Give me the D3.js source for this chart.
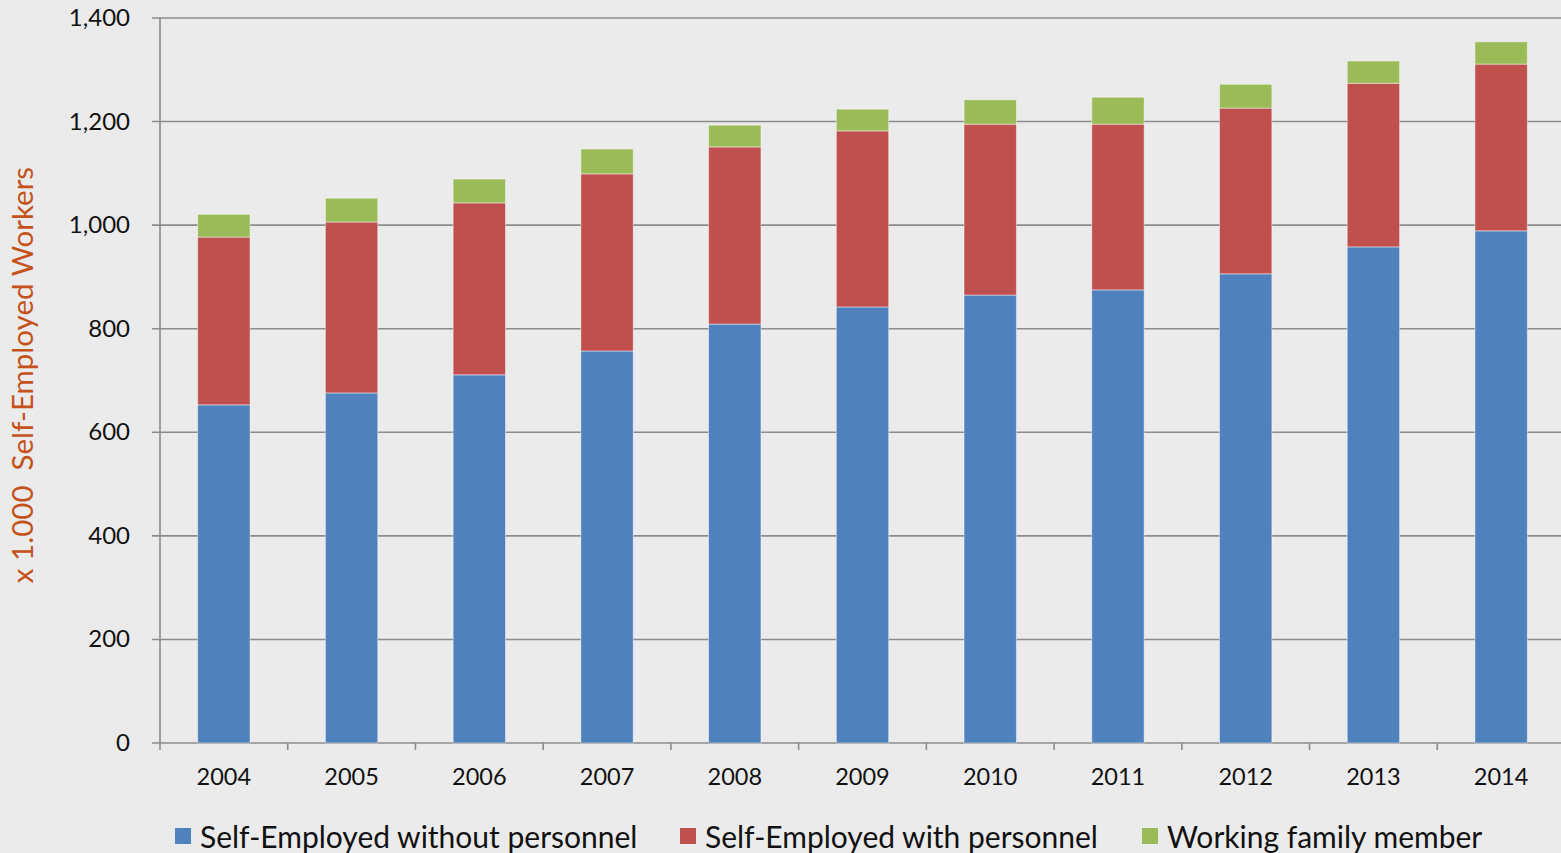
<!DOCTYPE html>
<html>
<head>
<meta charset="utf-8">
<script src="https://cdn.jsdelivr.net/npm/d3@7/dist/d3.min.js"></script>
<style>
  html, body { margin: 0; padding: 0; background: #ebebeb; }
  svg { display: block; font-family: Lato, "Open Sans", sans-serif; }
</style>
</head>
<body>
<div id="chart"></div>
<script>
var years = ['2004','2005','2006','2007','2008','2009','2010','2011','2012','2013','2014'];
var withoutPersonnel = [653, 676, 711, 757, 809, 842, 865, 875, 906, 958, 989];
var withPersonnel    = [324, 330, 332, 342, 342, 340, 330, 320, 320, 316, 322];
var familyMember     = [44, 46, 46, 48, 42, 42, 47, 52, 46, 43, 43];
var seriesNames = ['Self-Employed without personnel', 'Self-Employed with personnel', 'Working family member'];
var seriesColors = ['#4f81bd', '#c0504d', '#9bbb59'];
var yTicks = [0, 200, 400, 600, 800, 1000, 1200, 1400];

var width = 1561, height = 853;
var margin = { top: 18, left: 160, bottom: 110, right: -4 };

var svg = d3.select('#chart').append('svg')
    .attr('width', width)
    .attr('height', height);

svg.append('rect').attr('width', width).attr('height', height).attr('fill', '#ebebeb');

var x = d3.scaleBand().domain(years).range([margin.left, width - margin.right]);
var y = d3.scaleLinear().domain([0, 1400]).range([height - margin.bottom, margin.top]);

// gridlines
svg.append('g').selectAll('line')
    .data(yTicks)
    .enter().append('line')
        .attr('x1', margin.left - 8)
        .attr('x2', width)
        .attr('y1', function(d){ return y(d) })
        .attr('y2', function(d){ return y(d) })
        .attr('stroke', '#8c8c8c')
        .attr('stroke-width', 1.6);

// y axis labels
svg.append('g').selectAll('text')
    .data(yTicks)
    .enter().append('text')
        .attr('x', 130)
        .attr('y', function(d){ return y(d) + 8 })
        .attr('text-anchor', 'end')
        .attr('font-size', 24)
        .attr('fill', '#111')
        .text(function(d){ return d3.format(',')(d) });

// stacked bars
var rows = years.map(function(yr, i){
    return { year: yr, a: withoutPersonnel[i], b: withPersonnel[i], c: familyMember[i] };
});
var stack = d3.stack().keys(['a','b','c'])(rows);
var barW = x.bandwidth() * 0.41;

svg.append('g').selectAll('g')
    .data(stack)
    .enter().append('g')
        .attr('fill', function(d, i){ return seriesColors[i] })
    .selectAll('rect')
    .data(function(d){ return d })
    .enter().append('rect')
        .attr('x', function(d){ return x(d.data.year) + (x.bandwidth() - barW) / 2 })
        .attr('y', function(d){ return y(d[1]) })
        .attr('width', barW)
        .attr('height', function(d){ return y(d[0]) - y(d[1]) })
        .attr('stroke', 'rgba(255,255,255,0.45)')
        .attr('stroke-width', 1);

// axes lines
var axisG = svg.append('g').attr('stroke', '#8c8c8c').attr('stroke-width', 1.6);
axisG.append('line')
    .attr('x1', margin.left).attr('x2', margin.left)
    .attr('y1', y(1400)).attr('y2', y(0) + 7);
axisG.selectAll('.xt')
    .data(years.slice(1))
    .enter().append('line')
        .attr('x1', function(d){ return x(d) })
        .attr('x2', function(d){ return x(d) })
        .attr('y1', y(0))
        .attr('y2', y(0) + 7);

// x labels
svg.append('g').selectAll('text')
    .data(years)
    .enter().append('text')
        .attr('x', function(d){ return x(d) + x.bandwidth() / 2 })
        .attr('y', y(0) + 42)
        .attr('text-anchor', 'middle')
        .attr('font-size', 23.5)
        .attr('fill', '#111')
        .text(function(d){ return d });

// y title
svg.append('text')
    .attr('transform', 'translate(33,' + 375 + ') rotate(-90)')
    .attr('text-anchor', 'middle')
    .attr('font-size', 29.5)
    .attr('fill', '#c4521a')
    .attr('xml:space', 'preserve')
    .text('x 1.000  Self-Employed Workers');

// legend
var legendX = [175, 680, 1142];
var legend = svg.append('g').selectAll('g')
    .data(seriesNames)
    .enter().append('g')
        .attr('transform', function(d, i){ return 'translate(' + legendX[i] + ',828)' });
legend.append('rect')
    .attr('width', 16).attr('height', 16)
    .attr('fill', function(d, i){ return seriesColors[i] });
legend.append('text')
    .attr('x', 25)
    .attr('y', 20)
    .attr('font-size', 30)
    .attr('fill', '#111')
    .text(function(d){ return d });
</script>
</body>
</html>
